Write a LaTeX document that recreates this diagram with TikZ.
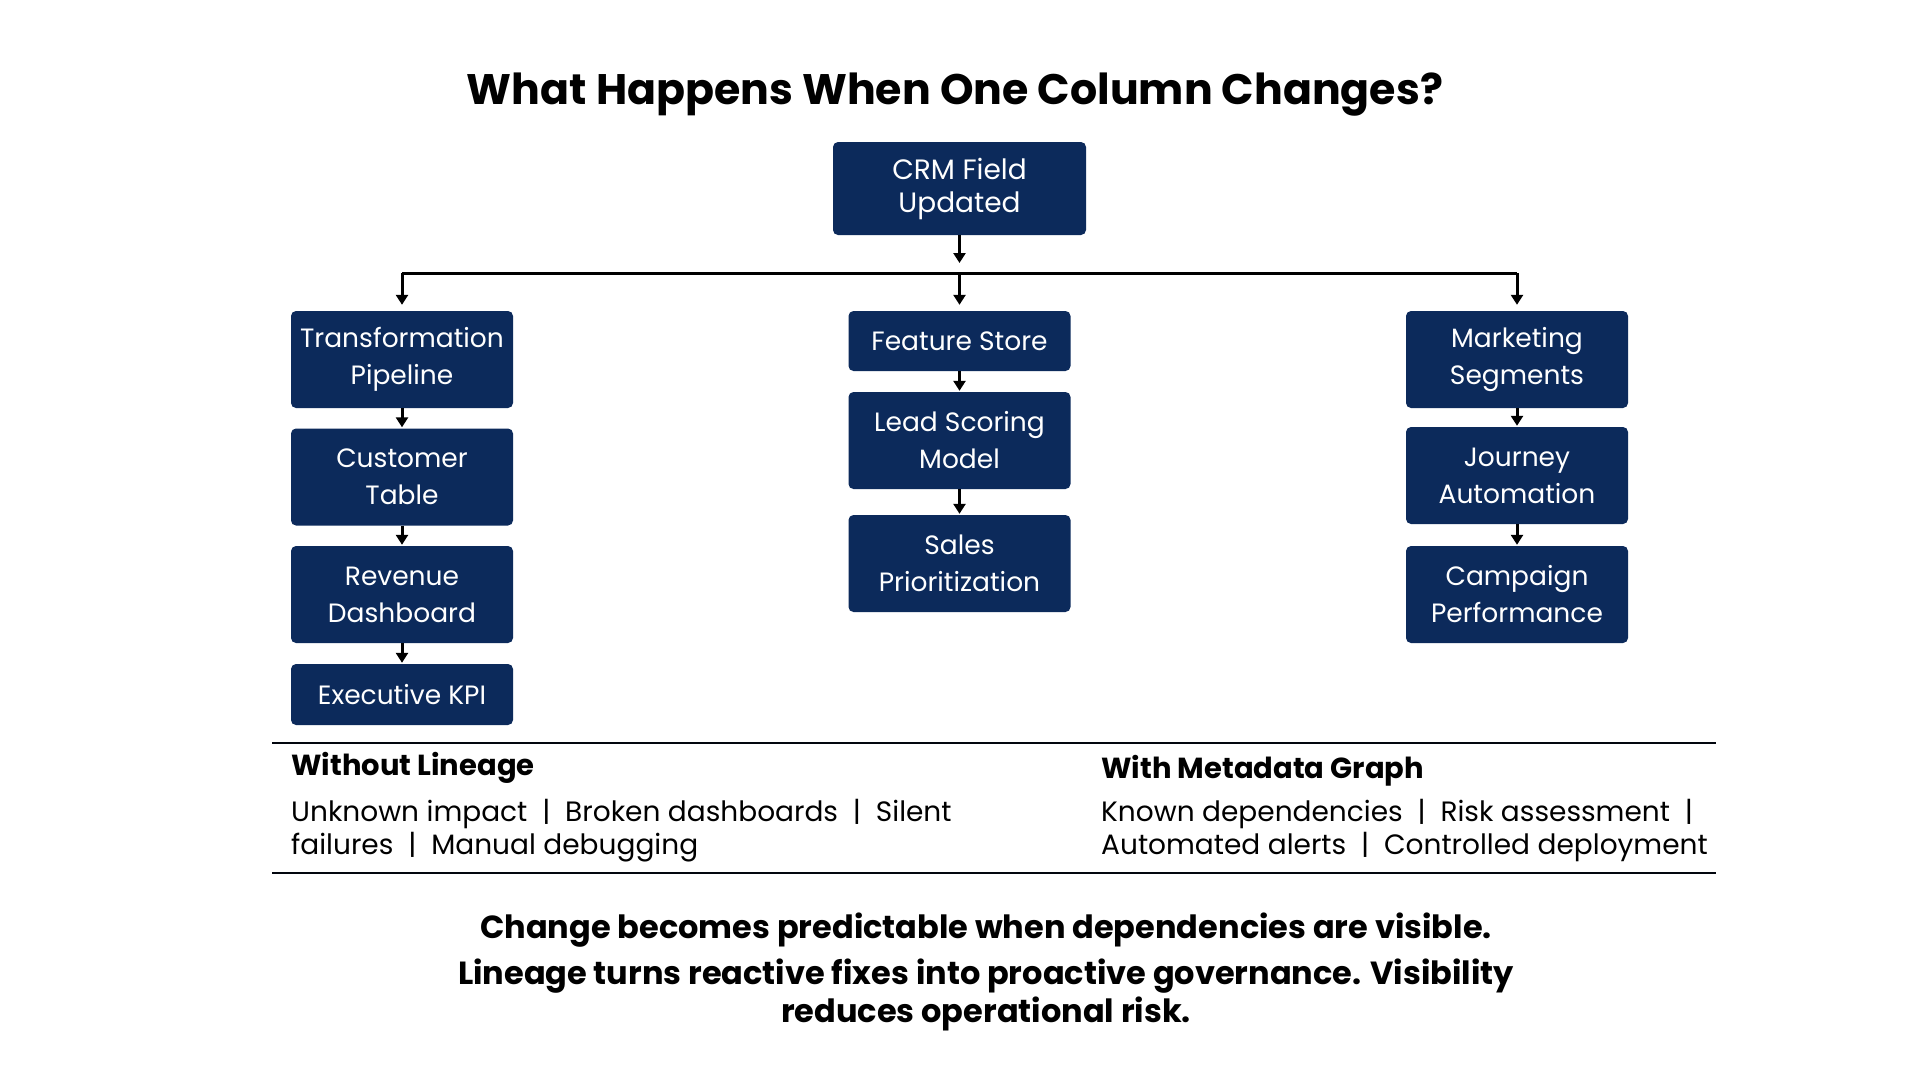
\documentclass[tikz,border=0pt]{standalone}
\usepackage{fontspec}
\setmainfont{Poppins}
\usetikzlibrary{arrows.meta}
\definecolor{navy}{HTML}{0C2A5B}
\newcommand{\sep}{\hspace{0.53em}|\hspace{0.53em}}
\tikzset{
  box/.style={fill=navy, rounded corners=5pt, text=white, align=center,
    minimum width=222pt, inner sep=0pt, font=\fontsize{26.5}{37}\selectfont},
  arr/.style={line width=3pt, -{Triangle[width=12pt,length=10pt]}},
  rule/.style={line width=2pt, draw=black!85!navy},
}
\begin{document}
\begin{tikzpicture}[x=1pt,y=-1pt]
\useasboundingbox (0,0) rectangle (1920,1080);
\fill[white] (0,0) rectangle (1920,1080);

\node[font=\fontsize{42.7}{50}\selectfont\bfseries] (title) at (955,95) {What Happens When One Column Changes?};

\node[box, minimum width=253pt, minimum height=93pt, font=\fontsize{28}{33}\selectfont] (crm) at (959.5,188.5) {CRM Field\\Updated};

% left column
\node[box, minimum height=97pt] (tp) at (402,359.5) {Transformation\\Pipeline};
\node[box, minimum height=97pt] (ct) at (402,477) {Customer\\Table};
\node[box, minimum height=97pt] (rd) at (402,594.5) {Revenue\\Dashboard};
\node[box, minimum height=61pt] (ek) at (402,694.5) {Executive KPI};

% middle column
\node[box, minimum height=60pt] (fs) at (959.5,341) {Feature Store};
\node[box, minimum height=97pt] (ls) at (959.5,440.5) {Lead Scoring\\Model};
\node[box, minimum height=97pt] (sp) at (959.5,563.5) {Sales\\Prioritization};

% right column
\node[box, minimum height=97pt] (ms) at (1517,359.5) {Marketing\\Segments};
\node[box, minimum height=97pt] (ja) at (1517,475.5) {Journey\\Automation};
\node[box, minimum height=97pt] (cp) at (1517,594.5) {Campaign\\Performance};

% bus
\coordinate (busL) at (402,273);
\coordinate (busM) at (959.5,273);
\coordinate (busR) at (1517,273);
\draw[arr, shorten >=10pt] (crm.south) -- (busM);
\draw[line width=3pt] (busL) -- (busR);
\draw[arr, shorten >=6pt] (busL) -- (tp.north);
\draw[arr, shorten >=6pt] (busM) -- (fs.north);
\draw[arr, shorten >=6pt] (busR) -- (ms.north);

\draw[arr, shorten >=1pt] (tp.south) -- (ct.north);
\draw[arr, shorten >=1pt] (ct.south) -- (rd.north);
\draw[arr, shorten >=1pt] (rd.south) -- (ek.north);
\draw[arr, shorten >=1pt] (fs.south) -- (ls.north);
\draw[arr, shorten >=1pt] (ls.south) -- (sp.north);
\draw[arr, shorten >=1pt] (ms.south) -- (ja.north);
\draw[arr, shorten >=1pt] (ja.south) -- (cp.north);

% separators
\coordinate (r1a) at (272,743);
\coordinate (r1b) at (1716,743);
\coordinate (r2a) at (272,873);
\coordinate (r2b) at (1716,873);
\draw[rule] (r1a) -- (r1b);
\draw[rule] (r2a) -- (r2b);

\node[anchor=west, inner sep=0pt, font=\fontsize{29}{35}\selectfont\bfseries] (wl) at (291,768) {Without Lineage};
\node[anchor=north west, inner sep=0pt, align=left, font=\fontsize{28}{33}\selectfont] (wlt) at (291,799)
  {Unknown impact\sep Broken dashboards\sep Silent\\failures\sep Manual debugging};

\node[anchor=west, inner sep=0pt, font=\fontsize{29}{35}\selectfont\bfseries] (wm) at (1101,771) {With Metadata Graph};
\node[anchor=north west, inner sep=0pt, align=left, font=\fontsize{28}{33}\selectfont] (wmt) at (1101,799)
  {Known dependencies\sep Risk assessment\sep\\Automated alerts\sep Controlled deployment};

% bottom statements
\node[font=\fontsize{32}{38}\selectfont\bfseries] (s1) at (986,930) {Change becomes predictable when dependencies are visible.};
\node[align=center, font=\fontsize{32}{38}\selectfont\bfseries] (s2) at (986,995) {Lineage turns reactive fixes into proactive governance. Visibility\\reduces operational risk.};
\end{tikzpicture}
\end{document}
